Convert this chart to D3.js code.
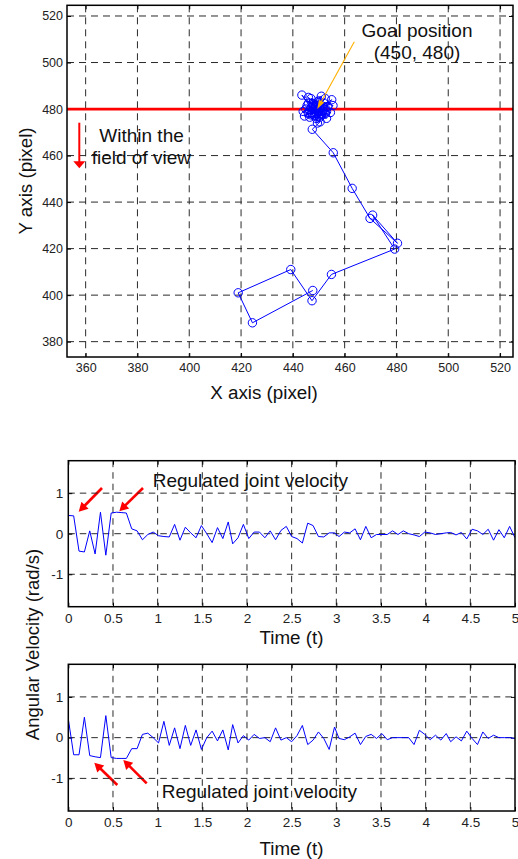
<!DOCTYPE html>
<html><head><meta charset="utf-8">
<script src="https://cdn.jsdelivr.net/npm/d3@7"></script>
<style>
body{margin:0;background:#fff}
svg{display:block}
text{font-family:"Liberation Sans",Arial,Helvetica,sans-serif}
</style>
</head><body>
<svg id="c" width="518" height="859"></svg>
<script>
// ---------- DATA ----------
const trajX = [447.7,424.4,418.9,439.2,447.4,454.9,479.3,470.8,480.4,469.8,462.9,455.6,447.5,
  450.5,446.5,452.5,448,444,449.5,453.5,447,450,454.5,445.5,451,448.5,443.5,446,452,449,455,
  447.5,450.5,444.5,453,448,451.5,446,449.5,455.5,450,447,452.5,448.5,450,
  446.5,451,449,453,447.5,450.5,445,452,448.5,450,446,451.5,449,447,452.5,449.5];
const trajY = [402.0,388.1,401.0,411.0,397.6,408.9,419.8,434.4,422.3,433.0,445.9,461.2,471.3,
  474.5,476.5,478,480,479,483,481,484.5,477,478.5,481.5,485.5,478,486,482.5,482.5,476,484,
  478.5,480.5,477,476,482,479.5,485,474,481.5,483.5,477.5,484.5,481,479,
  479.5,477.5,481.5,479,482.5,476.5,480,480.5,477,478.5,478,481,480,480.5,478.5,482];
const goalPos = [450, 480];
const pixelXTicks = [360,380,400,420,440,460,480,500,520];
const pixelYTicks = [380,400,420,440,460,480,500,520];

const time = [0.00,0.06,0.12,0.18,0.24,0.30,0.36,0.42,0.48,0.54,
  0.60,0.65,0.71,0.77,0.83,0.89,0.95,1.01,1.07,1.13,
  1.19,1.25,1.31,1.37,1.43,1.49,1.55,1.61,1.67,1.73,
  1.79,1.84,1.90,1.96,2.02,2.08,2.14,2.20,2.26,2.32,
  2.38,2.44,2.50,2.56,2.62,2.68,2.74,2.80,2.86,2.92,
  2.98,3.03,3.09,3.15,3.21,3.27,3.33,3.39,3.45,3.51,
  3.57,3.63,3.69,3.75,3.81,3.87,3.93,3.99,4.05,4.11,
  4.17,4.23,4.28,4.34,4.40,4.46,4.52,4.58,4.64,4.70,
  4.76,4.82,4.88,4.94,5.00];
const velJoint1 = [0.45,0.44,-0.43,-0.45,0.07,-0.5,0.53,-0.53,0.51,0.53,
  0.52,0.51,0.12,0.07,-0.15,-0.02,0.04,-0.05,-0.07,-0.08,
  0.23,-0.16,0.16,0.02,-0.1,0.2,0.0,-0.22,0.15,-0.12,
  0.29,-0.25,-0.1,0.23,-0.12,0.04,0.04,-0.1,0.07,-0.15,
  0.08,0.18,-0.07,-0.12,-0.23,0.26,0.2,-0.07,-0.08,0.02,
  0.02,-0.07,0.04,0.02,0.12,-0.15,0.18,-0.1,-0.02,-0.02,
  -0.02,0.07,-0.02,0.07,0.0,-0.03,-0.07,0.04,0.02,-0.02,
  0.0,0.02,0.03,-0.03,0.03,-0.13,0.11,0.07,-0.02,0.11,
  -0.16,0.1,-0.1,0.18,-0.1];
const velJoint2 = [0.46,-0.42,-0.42,0.5,-0.44,-0.47,-0.49,0.54,-0.49,-0.51,
  -0.51,-0.51,-0.27,-0.27,0.08,0.11,0.0,-0.13,0.4,-0.19,
  0.24,-0.27,0.3,-0.19,0.19,-0.29,0.0,0.16,-0.08,0.19,
  -0.3,0.32,-0.13,0.05,-0.06,0.08,-0.02,0.0,-0.1,0.24,
  -0.06,0.0,-0.1,0.05,0.3,-0.17,-0.06,0.14,-0.02,-0.29,
  0.26,-0.02,-0.05,0.02,0.11,-0.17,0.03,0.08,-0.02,0.1,
  -0.05,0.0,0.0,0.0,0.0,-0.17,0.18,0.08,-0.05,0.06,
  -0.06,0.1,-0.1,0.02,-0.08,0.16,-0.02,-0.17,0.14,-0.02,
  0.06,0.0,0.0,0.0,-0.02];
const timeTicks = [0,0.5,1,1.5,2,2.5,3,3.5,4,4.5,5];
const velTicks = [-1,0,1];

// ---------- DRAW ----------
const svg = d3.select("#c");
svg.append("rect").attr("width",518).attr("height",859).attr("fill","#fff");
let clipId = 0;

function panel(c){
  const g = svg.append("g");
  const x = d3.scaleLinear().domain(c.xDom).range([c.left,c.right]);
  const y = d3.scaleLinear().domain(c.yDom).range([c.bottom,c.top]);
  const id = "clip"+(clipId++);
  svg.append("clipPath").attr("id",id).append("rect")
    .attr("x",c.left).attr("y",c.top).attr("width",c.right-c.left).attr("height",c.bottom-c.top);
  const grid = g.append("g").attr("stroke","#2a2a2a").attr("stroke-width",1).attr("stroke-dasharray",c.dash);
  c.xTicks.forEach(t=>{ const px=x(t); if(px>c.left+1.5 && px<c.right-1.5)
    grid.append("line").attr("x1",px).attr("x2",px).attr("y1",c.top).attr("y2",c.bottom); });
  c.yTicks.forEach(t=>{ const py=y(t); if(py>c.top+1.5 && py<c.bottom-1.5)
    grid.append("line").attr("x1",c.left).attr("x2",c.right).attr("y1",py).attr("y2",py); });
  const fmt = c.fmt || (d=>String(d));
  const ax = (gen, tr, labels) => {
    const a = g.append("g").attr("transform",tr)
      .call(gen.tickValues(labels.vals).tickSizeInner(-4).tickSizeOuter(0).tickPadding(labels.pad).tickFormat(labels.show?fmt:""));
    a.select(".domain").remove();
    a.selectAll("line").attr("stroke","#000");
    a.selectAll("text").attr("font-size",c.tickFont).attr("fill","#222").attr("font-family","Liberation Sans, Arial, sans-serif");
  };
  ax(d3.axisBottom(x), `translate(0,${c.bottom})`, {vals:c.xTicks,pad:6.5,show:true});
  ax(d3.axisTop(x), `translate(0,${c.top})`, {vals:c.xTicks,pad:3,show:false});
  ax(d3.axisLeft(y), `translate(${c.left},0)`, {vals:c.yTicks,pad:c.ypad,show:true});
  ax(d3.axisRight(y), `translate(${c.right},0)`, {vals:c.yTicks,pad:3,show:false});
  const data = g.append("g").attr("clip-path",`url(#${id})`);
  return {g, x, y, data, border:()=>g.append("rect").attr("x",c.left).attr("y",c.top)
    .attr("width",c.right-c.left).attr("height",c.bottom-c.top).attr("fill","none")
    .attr("stroke","#000").attr("stroke-width",1.5)};
}

function arrow(g,x1,y1,x2,y2,color,w,hl,hw){
  const dx=x2-x1, dy=y2-y1, L=Math.hypot(dx,dy), ux=dx/L, uy=dy/L;
  const bx=x2-ux*hl, by=y2-uy*hl;
  g.append("line").attr("x1",x1).attr("y1",y1).attr("x2",bx+ux*1).attr("y2",by+uy*1)
    .attr("stroke",color).attr("stroke-width",w);
  g.append("polygon").attr("points",
    `${x2},${y2} ${bx-uy*hw/2},${by+ux*hw/2} ${bx+uy*hw/2},${by-ux*hw/2}`).attr("fill",color);
}
function label(g,txt,x,y,size,anchor,rot){
  const t=g.append("text").text(txt).attr("font-size",size).attr("fill","#111")
    .attr("text-anchor",anchor||"start");
  if(rot) t.attr("transform",`translate(${x},${y}) rotate(-90)`);
  else t.attr("x",x).attr("y",y);
  return t;
}

// ---- top panel: trajectory ----
const P1 = panel({left:67,right:513,top:5.3,bottom:357,xDom:[352.8,525],yDom:[373.4,524.6],
  xTicks:pixelXTicks,yTicks:pixelYTicks,tickFont:12.5,ypad:4,dash:"7,5"});
P1.data.append("line").attr("x1",67).attr("x2",513)
  .attr("y1",P1.y(goalPos[1])).attr("y2",P1.y(goalPos[1]))
  .attr("stroke","#ff0000").attr("stroke-width",2.8);
const pts = trajX.map((v,i)=>[v,trajY[i]]);
P1.data.append("path").datum(pts)
  .attr("d",d3.line().x(d=>P1.x(d[0])).y(d=>P1.y(d[1])))
  .attr("fill","none").attr("stroke","#0000ff").attr("stroke-width",1);
P1.data.selectAll("circle.p").data(pts).enter().append("circle")
  .attr("cx",d=>P1.x(d[0])).attr("cy",d=>P1.y(d[1])).attr("r",4.2)
  .attr("fill","none").attr("stroke","#0000ff").attr("stroke-width",1);
P1.border();
const ann = svg.append("g");
arrow(ann,354.3,41.7,P1.x(goalPos[0])-1.5,P1.y(goalPos[1]),"#ffb000",1.1,9,6);
label(ann,"Goal position",417,36.7,19,"middle");
label(ann,"(450, 480)",417,59.3,19,"middle");
arrow(ann,79.3,122.7,79.3,168.3,"#ff0000",2,7,12);
label(ann,"Within the",99.3,141.7,19);
label(ann,"field of view",91.7,164,19);
label(ann,"X axis (pixel)",264,399,18.8,"middle");
label(ann,"Y axis (pixel)",31.5,181,18.8,"middle",true);

// ---- panel 2 ----
const P2 = panel({left:68.3,right:515,top:460.7,bottom:606.7,xDom:[0,5],yDom:[-1.8,1.8],
  xTicks:timeTicks,yTicks:velTicks,tickFont:13.5,ypad:5,dash:"6.5,5"});
P2.data.append("path").datum(time.map((t,i)=>[t,velJoint1[i]]))
  .attr("d",d3.line().x(d=>P2.x(d[0])).y(d=>P2.y(d[1])))
  .attr("fill","none").attr("stroke","#0000ff").attr("stroke-width",1);
P2.border();
arrow(ann,102,488,78.7,511.7,"#ff0000",2.6,9,10);
arrow(ann,143,488,119.3,511.3,"#ff0000",2.6,9,10);
label(ann,"Regulated joint velocity",152.7,487.3,19);
label(ann,"Time (t)",291.5,644.3,18.8,"middle");

// ---- panel 3 ----
const P3 = panel({left:68.3,right:515,top:664.3,bottom:811,xDom:[0,5],yDom:[-1.8,1.8],
  xTicks:timeTicks,yTicks:velTicks,tickFont:13.5,ypad:5,dash:"6.5,5"});
P3.data.append("path").datum(time.map((t,i)=>[t,velJoint2[i]]))
  .attr("d",d3.line().x(d=>P3.x(d[0])).y(d=>P3.y(d[1])))
  .attr("fill","none").attr("stroke","#0000ff").attr("stroke-width",1);
P3.border();
arrow(ann,117.3,785,94.3,762.7,"#ff0000",2.6,9,10);
arrow(ann,146.7,783.3,123.3,760,"#ff0000",2.6,9,10);
label(ann,"Regulated joint velocity",161.7,798.3,19);
label(ann,"Time (t)",291.5,855,18.8,"middle");
label(ann,"Angular Velocity (rad/s)",39.3,644.5,18.5,"middle",true);
</script>
</body></html>
